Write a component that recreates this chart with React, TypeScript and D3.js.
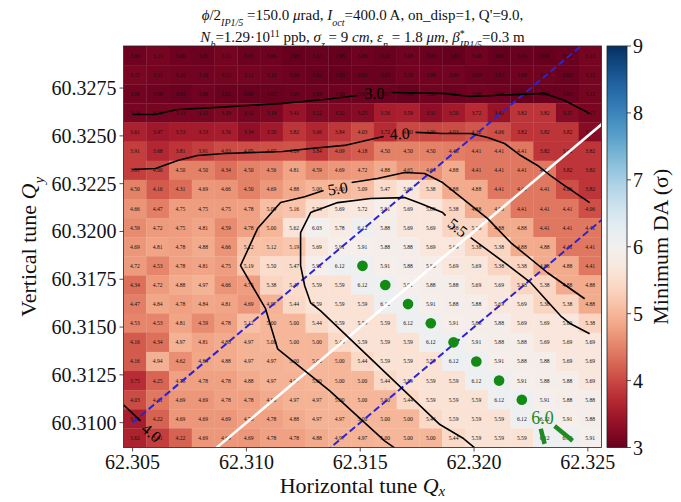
import React from 'react';
import * as d3 from 'd3';

// ---------- data ----------
const QX_CENTERS = [62.3051, 62.3061, 62.3071, 62.3081, 62.3091, 62.3101, 62.3111, 62.3121, 62.3131, 62.3141, 62.3151, 62.3161, 62.3171, 62.3181, 62.3191, 62.3201, 62.3211, 62.3221, 62.3231, 62.3241, 62.3251];
const QY_CENTERS = [60.3292, 60.3282, 60.3272, 60.3262, 60.3252, 60.3242, 60.3232, 60.3222, 60.3212, 60.3202, 60.3192, 60.3182, 60.3172, 60.3162, 60.3152, 60.3142, 60.3132, 60.3122, 60.3112, 60.3102, 60.3092];
const CELL_STEP = 0.001;

const X_TICKS = [62.305, 62.31, 62.315, 62.32, 62.325];
const X_TICK_LABELS = ['62.305', '62.310', '62.315', '62.320', '62.325'];
const Y_TICKS = [60.31, 60.3125, 60.315, 60.3175, 60.32, 60.3225, 60.325, 60.3275];
const Y_TICK_LABELS = ['60.3100', '60.3125', '60.3150', '60.3175', '60.3200', '60.3225', '60.3250', '60.3275'];
const CB_TICKS = [3, 4, 5, 6, 7, 8, 9];

// Minimum DA (sigma), rows from top (high Qy) to bottom
const DA = [
  [3.06, 3.13, 3.06, 3.05, 3.11, 3.05, 3.06, 2.98, 3.03, 2.98, 3.06, 3.02, 3.08, 3.03, 3.00, 3.08, 3.00, 3.03, 3.00, 3.02, 3.12],
  [3.15, 3.11, 3.10, 3.10, 3.11, 3.11, 3.10, 3.06, 3.01, 3.00, 3.02, 3.03, 3.10, 3.08, 3.09, 3.04, 3.03, 3.08, 3.07, 3.02, 3.12],
  [3.09, 3.06, 3.03, 3.08, 3.02, 3.01, 3.02, 3.05, 3.04, 3.06, 3.05, 3.02, 3.00, 3.08, 3.04, 3.08, 3.06, 3.00, 3.02, 3.03, 3.12],
  [3.14, 3.12, 3.13, 3.12, 3.19, 3.12, 3.18, 3.41, 3.22, 3.22, 3.25, 3.56, 3.59, 3.31, 3.50, 3.72, 3.41, 3.82, 3.82, 3.25, 3.15],
  [3.61, 3.47, 3.53, 3.53, 3.56, 3.34, 3.50, 3.82, 3.66, 3.84, 4.03, 3.72, 4.00, 4.00, 4.03, 4.12, 4.06, 3.82, 3.82, 3.82, 3.25],
  [3.91, 3.68, 3.81, 3.91, 4.03, 4.05, 4.07, 4.09, 3.84, 4.09, 4.18, 4.50, 4.50, 4.50, 4.46, 4.41, 4.41, 4.41, 3.82, 3.82, 3.82],
  [3.91, 4.00, 4.50, 4.50, 4.34, 4.50, 4.56, 4.81, 4.59, 4.69, 4.72, 4.88, 4.65, 4.64, 4.88, 4.41, 4.41, 4.41, 4.41, 3.82, 3.82],
  [4.50, 4.16, 4.31, 4.69, 4.66, 4.50, 4.69, 4.88, 5.00, 5.00, 5.09, 5.47, 5.69, 5.38, 4.88, 4.88, 4.41, 4.41, 4.41, 4.06, 3.82],
  [4.66, 4.47, 4.75, 4.75, 4.75, 4.78, 5.09, 5.16, 5.53, 5.69, 5.72, 5.91, 5.69, 5.69, 5.38, 4.88, 4.88, 4.41, 4.41, 4.41, 4.06],
  [4.59, 4.72, 4.75, 4.81, 4.59, 4.78, 5.00, 5.62, 6.03, 5.78, 6.12, 5.88, 5.69, 5.69, 5.38, 5.38, 4.88, 4.88, 4.41, 4.41, 4.41],
  [4.69, 4.81, 4.78, 4.88, 4.66, 5.12, 5.12, 5.19, 5.69, 5.91, 5.91, 5.88, 5.88, 5.69, 5.69, 5.38, 5.38, 4.88, 4.88, 4.41, 4.41],
  [4.72, 4.53, 4.78, 4.81, 4.75, 5.19, 5.50, 5.47, 5.91, 6.12, 6.12, 5.91, 5.88, 5.88, 5.69, 5.69, 5.38, 5.38, 4.88, 4.88, 4.41],
  [4.34, 4.72, 4.88, 4.97, 4.66, 4.75, 5.38, 5.47, 5.59, 5.59, 6.12, 6.12, 5.91, 5.88, 5.88, 5.69, 5.69, 5.38, 5.38, 4.88, 4.88],
  [4.47, 4.84, 4.78, 4.84, 4.81, 4.69, 4.97, 5.44, 5.59, 5.59, 5.59, 6.12, 6.12, 5.91, 5.88, 5.88, 5.69, 5.69, 5.38, 5.38, 4.88],
  [4.53, 4.53, 4.81, 4.59, 4.78, 5.12, 5.00, 5.00, 5.44, 5.59, 5.59, 5.59, 6.12, 6.12, 5.91, 5.88, 5.88, 5.69, 5.69, 5.69, 5.38],
  [4.16, 4.34, 4.97, 4.81, 4.88, 4.97, 5.00, 5.00, 5.00, 5.44, 5.59, 5.59, 5.59, 6.12, 6.12, 5.91, 5.88, 5.88, 5.69, 5.69, 5.69],
  [4.16, 4.94, 4.62, 4.84, 4.88, 4.97, 4.97, 5.00, 5.00, 5.00, 5.44, 5.59, 5.59, 5.59, 6.12, 6.12, 5.91, 5.88, 5.88, 5.69, 5.69],
  [3.75, 4.25, 4.78, 4.78, 4.78, 4.88, 4.97, 4.97, 5.00, 5.00, 5.00, 5.44, 5.59, 5.59, 5.59, 6.12, 6.12, 5.91, 5.88, 5.88, 5.69],
  [4.03, 4.41, 4.69, 4.69, 4.78, 4.78, 4.88, 4.97, 4.97, 5.00, 5.00, 5.00, 5.44, 5.59, 5.59, 5.59, 6.12, 6.12, 5.91, 5.88, 5.88],
  [3.56, 4.22, 4.69, 4.69, 4.69, 4.78, 4.78, 4.88, 4.97, 4.97, 5.00, 5.00, 5.00, 5.44, 5.59, 5.59, 5.59, 6.12, 6.12, 5.91, 5.88],
  [3.62, 3.91, 4.22, 4.69, 4.69, 4.69, 4.78, 4.78, 4.88, 4.97, 4.97, 5.00, 5.00, 5.00, 5.44, 5.59, 5.59, 5.59, 6.12, 6.12, 5.91],
];

// optimum working points (green markers)
const DOT_QX = [62.3151, 62.3161, 62.3171, 62.3181, 62.3191, 62.3201, 62.3211, 62.3221];
const DOT_QY = [60.3182, 60.3172, 60.3162, 60.3152, 60.3142, 60.3132, 60.3122, 60.3112];

// resonance lines Qy = Qx + offset
const RES_QX = [62.305, 62.327];
const WHITE_OFFSET = -2.0;
const BLUE_OFFSETS = [-1.995, -2.005];

// contour lines (Qx, Qy)
const C30_A: [number, number][] = [[62.30500, 60.32612], [62.30596, 60.32612], [62.30698, 60.32638], [62.30873, 60.32649], [62.31159, 60.32670], [62.31343, 60.32690], [62.31488, 60.32711]];
const C30_B: [number, number][] = [[62.31638, 60.32727], [62.31862, 60.32722], [62.31985, 60.32706], [62.32205, 60.32717], [62.32310, 60.32722], [62.32398, 60.32685], [62.32508, 60.32617]];
const C40_A: [number, number][] = [[62.30500, 60.32324], [62.30601, 60.32329], [62.30698, 60.32371], [62.30785, 60.32397], [62.30904, 60.32408], [62.31159, 60.32418], [62.31282, 60.32434], [62.31431, 60.32450], [62.31563, 60.32486], [62.31603, 60.32497]];
const C40_B: [number, number][] = [[62.31743, 60.32518], [62.31862, 60.32512], [62.31985, 60.32512], [62.32060, 60.32491], [62.32134, 60.32460], [62.32205, 60.32397], [62.32279, 60.32345], [62.32336, 60.32292], [62.32398, 60.32240], [62.32508, 60.32151]];
const C50_A: [number, number][] = [[62.31651, 60.30868], [62.31607, 60.30905], [62.31365, 60.31167], [62.31137, 60.31386], [62.31084, 60.31596], [62.30974, 60.31821], [62.31049, 60.32015], [62.31150, 60.32151], [62.31256, 60.32182], [62.31339, 60.32214]];
const C50_B: [number, number][] = [[62.31462, 60.32256], [62.31576, 60.32277], [62.31695, 60.32308], [62.31783, 60.32303], [62.31862, 60.32256], [62.32060, 60.32067], [62.32161, 60.31942], [62.32323, 60.31784], [62.32486, 60.31648]];
const C55_A: [number, number][] = [[62.32003, 60.30868], [62.31950, 60.30920], [62.31850, 60.30990], [62.31326, 60.31585], [62.31282, 60.31627], [62.31256, 60.31716], [62.31238, 60.31821], [62.31238, 60.31994], [62.31282, 60.32099], [62.31401, 60.32151], [62.31546, 60.32172], [62.31695, 60.32177], [62.31765, 60.32146], [62.31862, 60.32099], [62.31875, 60.32083]];
const C55_B: [number, number][] = [[62.31985, 60.31968], [62.32134, 60.31837], [62.32249, 60.31732], [62.32380, 60.31559], [62.32424, 60.31517], [62.32508, 60.31465]];
const C40_LOW: [number, number][] = [[62.30460, 60.31093], [62.30535, 60.31009]];
const C60_A: [number, number][] = [[62.32293, 60.30968], [62.32310, 60.30889]];
const C60_B: [number, number][] = [[62.32354, 60.30983], [62.32433, 60.30905]];

const CONTOUR_LABELS = [
  { text: '3.0', qx: 62.31563, qy: 60.32722, rot: 0, color: '#000', size: 16 },
  { text: '4.0', qx: 62.31673, qy: 60.32512, rot: -3, color: '#000', size: 16 },
  { text: '5.0', qx: 62.31401, qy: 60.32224, rot: -8, color: '#000', size: 16 },
  { text: '5.5', qx: 62.31928, qy: 60.32020, rot: 38, color: '#000', size: 16 },
  { text: '4.0', qx: 62.30583, qy: 60.30947, rot: 40, color: '#000', size: 16 },
  { text: '6.0', qx: 62.32301, qy: 60.31025, rot: 0, color: '#1f8a1f', size: 18 },
];

const FONT = '"Liberation Serif", "DejaVu Serif", serif';

export default function App() {
  const W = 681;
  const H = 502;
  const L = 123.5, R = 601.5, T = 46, B = 447.5;
  const x = d3.scaleLinear().domain([62.3046, 62.3256]).range([L, R]);
  const y = d3.scaleLinear().domain([60.3087, 60.3297]).range([B, T]);
  const color = d3.scaleSequential(d3.interpolateRdBu).domain([3, 9]).clamp(true);
  const line = d3.line<[number, number]>().x(d => x(d[0])).y(d => y(d[1]));

  const cbL = 607, cbR = 627;
  const cbY = d3.scaleLinear().domain([3, 9]).range([B, T]);
  const stops = d3.range(0, 1.0001, 0.05);

  const cells: React.ReactNode[] = [];
  DA.forEach((row, r) => {
    row.forEach((v, c) => {
      const x0 = x(QX_CENTERS[c] - CELL_STEP / 2);
      const x1 = x(QX_CENTERS[c] + CELL_STEP / 2);
      const y0 = y(QY_CENTERS[r] + CELL_STEP / 2);
      const y1 = y(QY_CENTERS[r] - CELL_STEP / 2);
      cells.push(
        <rect key={`c${r}-${c}`} x={x0} y={y0} width={x1 - x0 + 0.3} height={y1 - y0 + 0.3} fill={color(v)} />
      );
      cells.push(
        <text key={`t${r}-${c}`} x={(x0 + x1) / 2} y={(y0 + y1) / 2 + 2} fontSize={5.6} textAnchor="middle" fill="#111" fontFamily={FONT}>
          {v.toFixed(2)}
        </text>
      );
    });
  });

  const blackContours = [C30_A, C30_B, C40_A, C40_B, C50_A, C50_B, C55_A, C55_B, C40_LOW];
  const greenContours = [C60_A, C60_B];

  return (
    <svg width={W} height={H} style={{ position: 'absolute', left: 0, top: 0, background: '#fff' }} fontFamily={FONT}>
      <defs>
        <clipPath id="plotclip">
          <rect x={L} y={T} width={R - L} height={B - T} />
        </clipPath>
        <linearGradient id="cbgrad" x1="0" y1="1" x2="0" y2="0">
          {stops.map((s, i) => (
            <stop key={i} offset={s} stopColor={color(3 + 6 * s)} />
          ))}
        </linearGradient>
      </defs>
      <rect x={0} y={0} width={W} height={H} fill="#fff" />

      {/* title */}
      <text x={(L + R) / 2} y={20} fontSize={15} textAnchor="middle" fill="#111">
        <tspan fontStyle="italic">ϕ</tspan>/2<tspan fontStyle="italic" fontSize={10} baselineShift="sub">IP1/5</tspan>
        <tspan> =150.0 </tspan><tspan fontStyle="italic">μ</tspan>rad, <tspan fontStyle="italic">I</tspan>
        <tspan fontStyle="italic" fontSize={10} baselineShift="sub">oct</tspan><tspan>=400.0 A, on_disp=1, Q'=9.0,</tspan>
      </text>
      <text x={(L + R) / 2} y={42} fontSize={15} textAnchor="middle" fill="#111">
        <tspan fontStyle="italic">N</tspan><tspan fontStyle="italic" fontSize={10} baselineShift="sub">b</tspan>
        <tspan>=1.29·10</tspan><tspan fontSize={10} baselineShift="super">11</tspan>
        <tspan> ppb, </tspan><tspan fontStyle="italic">σ</tspan><tspan fontStyle="italic" fontSize={10} baselineShift="sub">z</tspan>
        <tspan> = 9 </tspan><tspan fontStyle="italic">cm</tspan><tspan>, </tspan>
        <tspan fontStyle="italic">ε</tspan><tspan fontStyle="italic" fontSize={10} baselineShift="sub">n</tspan>
        <tspan> = 1.8 </tspan><tspan fontStyle="italic">μm</tspan><tspan>, </tspan>
        <tspan fontStyle="italic">β</tspan><tspan fontSize={10} baselineShift="super">*</tspan>
        <tspan fontStyle="italic" fontSize={10} baselineShift="sub" dx={-5}>IP1/5</tspan>
        <tspan>=0.3 m</tspan>
      </text>

      {/* heatmap */}
      <g clipPath="url(#plotclip)">
        {cells}
        {/* resonance lines */}
        <path d={line(RES_QX.map(q => [q, q + WHITE_OFFSET]) as [number, number][]) || ''} stroke="#fff" strokeWidth={2.6} fill="none" />
        {BLUE_OFFSETS.map((o, i) => (
          <path key={i} d={line(RES_QX.map(q => [q, q + o]) as [number, number][]) || ''} stroke="#2a24d6" strokeWidth={2} strokeDasharray="7,3.5" fill="none" />
        ))}
        {/* contours */}
        {blackContours.map((c, i) => (
          <path key={`bc${i}`} d={line(c) || ''} stroke="#000" strokeWidth={1.6} fill="none" strokeLinejoin="round" />
        ))}
        {greenContours.map((c, i) => (
          <path key={`gc${i}`} d={line(c) || ''} stroke="#1f8a1f" strokeWidth={4.5} fill="none" strokeLinecap="butt" />
        ))}
        {DOT_QX.map((q, i) => (
          <circle key={`d${i}`} cx={x(q)} cy={y(DOT_QY[i])} r={5.3} fill="#138a13" />
        ))}
        {CONTOUR_LABELS.map((lb, i) => (
          <text key={`lb${i}`} x={x(lb.qx)} y={y(lb.qy)} fontSize={lb.size} textAnchor="middle" dominantBaseline="central"
            fill={lb.color} transform={`rotate(${lb.rot} ${x(lb.qx)} ${y(lb.qy)})`}>
            {lb.text}
          </text>
        ))}
      </g>
      <rect x={L} y={T} width={R - L} height={B - T} fill="none" stroke="#222" strokeWidth={0.8} />

      {/* x axis */}
      {X_TICKS.map((t, i) => (
        <g key={`xt${i}`}>
          <line x1={x(t)} x2={x(t)} y1={B} y2={B + 4} stroke="#222" strokeWidth={0.8} />
          <text x={x(t)} y={B + 21} fontSize={20} textAnchor="middle" fill="#111">{X_TICK_LABELS[i]}</text>
        </g>
      ))}
      <text x={(L + R) / 2} y={493} fontSize={22} textAnchor="middle" fill="#111">
        Horizontal tune <tspan fontStyle="italic">Q</tspan><tspan fontStyle="italic" fontSize={15} baselineShift={-3}>x</tspan>
      </text>

      {/* y axis */}
      {Y_TICKS.map((t, i) => (
        <g key={`yt${i}`}>
          <line x1={L - 4} x2={L} y1={y(t)} y2={y(t)} stroke="#222" strokeWidth={0.8} />
          <text x={L - 7} y={y(t) + 7} fontSize={20} textAnchor="end" fill="#111">{Y_TICK_LABELS[i]}</text>
        </g>
      ))}
      <text transform={`translate(36 ${(T + B) / 2}) rotate(-90)`} fontSize={22} textAnchor="middle" fill="#111">
        Vertical tune <tspan fontStyle="italic">Q</tspan><tspan fontStyle="italic" fontSize={15} baselineShift="sub">y</tspan>
      </text>

      {/* colorbar */}
      <rect x={cbL} y={T} width={cbR - cbL} height={B - T} fill="url(#cbgrad)" stroke="#222" strokeWidth={0.8} />
      {CB_TICKS.map((t, i) => (
        <g key={`cb${i}`}>
          <line x1={cbR} x2={cbR + 4} y1={cbY(t)} y2={cbY(t)} stroke="#222" strokeWidth={0.8} />
          <text x={cbR + 6} y={cbY(t) + 7} fontSize={20} fill="#111">{t}</text>
        </g>
      ))}
      <text transform={`translate(668 ${(T + B) / 2}) rotate(-90)`} fontSize={22} textAnchor="middle" fill="#111">
        Minimum DA (σ)
      </text>
    </svg>
  );
}
